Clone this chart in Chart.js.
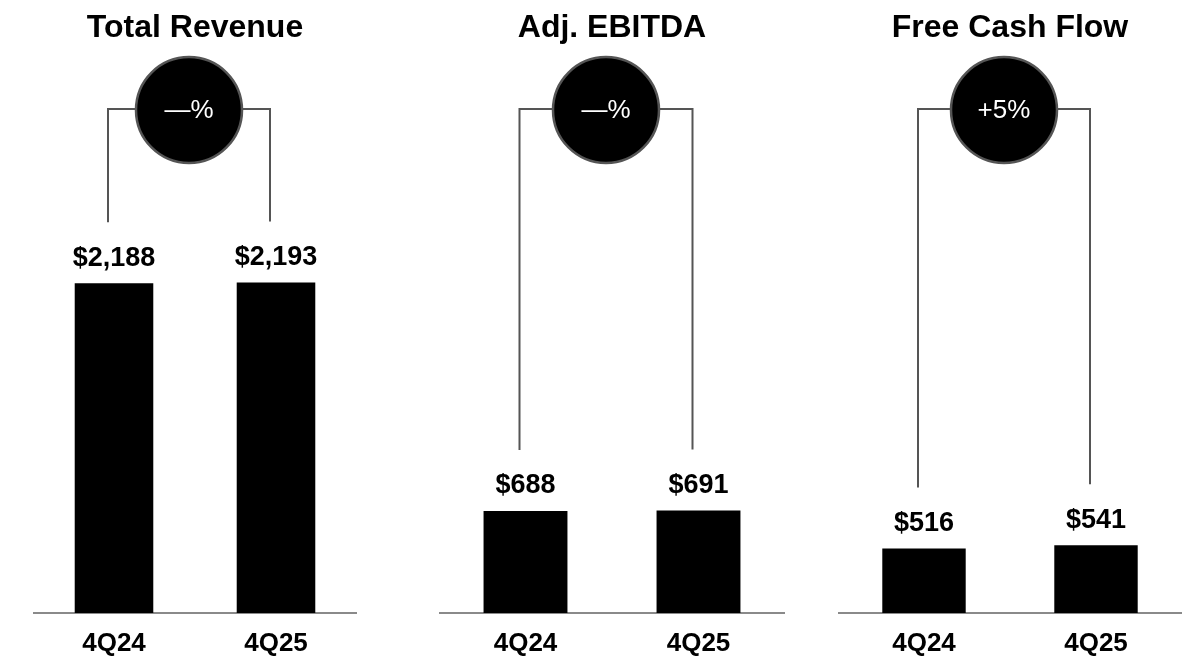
<!DOCTYPE html>
<html>
<head>
<meta charset="utf-8">
<script src="https://cdn.jsdelivr.net/npm/chart.js@4"></script>
<style>
  body { margin: 0; background: #fff; }
  .panel { position: absolute; top: 0; height: 660px; }
</style>
</head>
<body>
<div class="panel" style="left:33px;width:324px"><canvas id="chart_revenue"></canvas></div>
<div class="panel" style="left:439px;width:346px"><canvas id="chart_ebitda"></canvas></div>
<div class="panel" style="left:838px;width:344px"><canvas id="chart_fcf"></canvas></div>
<script>
const categories = ["4Q24", "4Q25"];
const revenue = [2188, 2193];
const ebitda = [688, 691];
const fcf = [516, 541];
const titles = ["Total Revenue", "Adj. EBITDA", "Free Cash Flow"];
const growth = ["—%", "—%", "+5%"];
const scaleMax = [2740, 2785, 3300];

const FONT = '"Liberation Sans", Arial, sans-serif';

// title, value labels, bracket and growth bubble
const overlay = {
    id: "overlay",
    afterDatasetsDraw(chart, args, opts) {
        const ctx = chart.ctx;
        const meta = chart.getDatasetMeta(0);
        const area = chart.chartArea;
        const mid = (area.left + area.right) / 2;
        const values = chart.data.datasets[0].data;
        ctx.save();
        ctx.textAlign = "center";
        ctx.textBaseline = "middle";
        ctx.fillStyle = "#000";
        ctx.font = "bold 32px " + FONT;
        ctx.fillText(opts.title, mid, 28);

        ctx.font = "bold 27px " + FONT;
        let ends = [];
        meta.data.forEach((bar, i) => {
            let ly = bar.y - 25;
            ctx.fillText("$" + values[i].toLocaleString("en-US"), bar.x, ly);
            ends.push(ly - 36);
        });

        let xs = meta.data.map(b => b.x - 6);
        let cy = 109;
        ctx.strokeStyle = "#555";
        ctx.lineWidth = 2;
        ctx.beginPath();
        ctx.moveTo(xs[0], ends[0]);
        ctx.lineTo(xs[0], cy);
        ctx.lineTo(xs[1], cy);
        ctx.lineTo(xs[1], ends[1]);
        ctx.stroke();

        let cx = (xs[0] + xs[1]) / 2;
        ctx.beginPath();
        ctx.arc(cx, 110, 53, 0, Math.PI * 2);
        ctx.fillStyle = "#000";
        ctx.fill();
        ctx.lineWidth = 2.5;
        ctx.strokeStyle = "#555";
        ctx.stroke();

        ctx.fillStyle = "#fff";
        ctx.font = "26px " + FONT;
        ctx.fillText(opts.growth, cx, 111);
        ctx.restore();
    }
};

function makeChart(id, values, idx) {
    let elm = document.getElementById(id).getContext("2d");
    return new Chart(elm, {
        type: "bar",
        data: {
            labels: categories,
            datasets: [{
                data: values,
                backgroundColor: "#000",
                categoryPercentage: 0.485,
                barPercentage: 1,
            }]
        },
        options: {
            responsive: true,
            maintainAspectRatio: false,
            animation: false,
            layout: { padding: { top: 200, bottom: 2, left: 0, right: 0 } },
            scales: {
                x: {
                    grid: { display: false },
                    border: { display: true, color: "#8a8a8a", width: 2 },
                    ticks: {
                        color: "#000",
                        padding: 7,
                        font: { family: FONT, size: 26, weight: "bold" },
                    },
                    afterFit(scale) { scale.height = 45; },
                },
                y: {
                    display: false,
                    min: 0,
                    max: scaleMax[idx],
                },
            },
            plugins: {
                legend: { display: false },
                tooltip: { enabled: false },
                overlay: { title: titles[idx], growth: growth[idx] },
            },
        },
        plugins: [overlay],
    });
}

makeChart("chart_revenue", revenue, 0);
makeChart("chart_ebitda", ebitda, 1);
makeChart("chart_fcf", fcf, 2);
</script>
</body>
</html>
